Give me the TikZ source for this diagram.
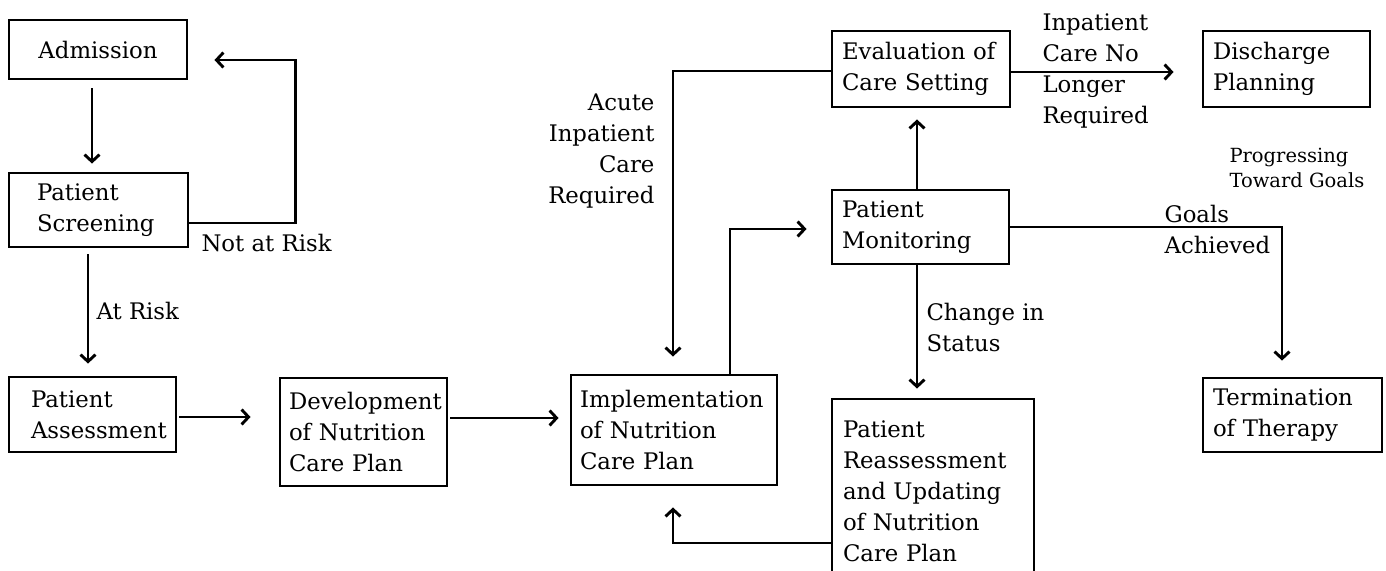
\documentclass[tikz,border=0pt]{standalone}
\usepackage{fontspec}
\setmainfont{DejaVu Serif}
\usetikzlibrary{arrows.meta}
\hbadness=10000 \hfuzz=200pt
\begin{document}
\begin{tikzpicture}[x=1pt,y=-1pt,
  every node/.style={font=\fontsize{22.8}{31}\selectfont, inner ysep=0pt},
  box/.style={draw, line width=2.9pt, align=left},
  arr/.style={line width=2.9pt, -{Straight Barb[length=7pt,width=15pt]}},
  lbl/.style={align=left, anchor=west},
  small/.style={font=\fontsize{19.5}{25}\selectfont}]
\clip (0,0) rectangle (1386,570);
\fill[white] (0,0) rectangle (1386,570);
% boxes
\node[box, align=center, minimum width=178, minimum height=59, inner xsep=10pt, text width=158pt] (adm) at (98,49.5) {Admission};
\node[box, minimum width=179, minimum height=74, inner xsep=28pt, text width=123pt] (scr) at (98.5,210) {Patient\\Screening};
\node[box, minimum width=167, minimum height=75, inner xsep=22pt, text width=123pt] (ass) at (92.5,414.5) {Patient\\Assessment};
\node[box, minimum width=167, minimum height=108, inner xsep=9pt, text width=149pt] (dev) at (363.5,432) {Development\\of~Nutrition\\Care~Plan};
\node[box, minimum width=206, minimum height=110, inner xsep=9pt, text width=188pt] (imp) at (674,430) {Implementation\\of~Nutrition\\Care~Plan};
\node[box, minimum width=178, minimum height=76, inner xsep=10pt, text width=158pt] (eva) at (921,69) {Evaluation~of\\Care~Setting};
\node[box, minimum width=177, minimum height=74, inner xsep=10pt, text width=157pt] (mon) at (920.5,227) {Patient\\Monitoring};
\node[box, minimum width=167, minimum height=76, inner xsep=10pt, text width=147pt] (dis) at (1286.5,69) {Discharge\\Planning};
\node[box, minimum width=179, minimum height=74, inner xsep=10pt, text width=159pt] (ter) at (1292.5,415) {Termination\\of~Therapy};
\node[box, minimum width=202, minimum height=185, inner xsep=11pt, text width=180pt] (rea) at (933,491.5) {Patient\\Reassessment\\and~Updating\\of~Nutrition\\Care~Plan};
% connectors
\draw[arr, shorten <=8pt, shorten >=8pt] ([xshift=-6pt]adm.south) -- ([xshift=-6pt]adm.south |- scr.north);
\draw[arr] ([yshift=-13pt]scr.east) -- ++(106,0) |- ([xshift=26pt,yshift=-10.5pt]adm.east);
\draw[arr, shorten <=6pt, shorten >=12pt] ([xshift=-10.5pt]scr.south) -- ([xshift=-10.5pt]scr.south |- ass.north);
\draw[arr, shorten <=2pt, shorten >=28pt] ([yshift=-2.5pt]ass.east) -- ([yshift=-2.5pt]ass.east -| dev.west);
\draw[arr, shorten <=2pt, shorten >=11pt] ([yshift=14pt]dev.east) -- ([yshift=14pt]dev.east -| imp.west);
\draw[arr, shorten >=24pt] ([xshift=56pt]imp.north) |- ([yshift=-2pt]mon.west);
\draw[arr, shorten >=11pt] ([xshift=-3.5pt]mon.north) -- ([xshift=-3.5pt]mon.north |- eva.south);
\draw[arr, shorten >=17pt] ([yshift=-2pt]eva.west) -| ([xshift=-1pt]imp.north);
\draw[arr, shorten >=28pt] ([yshift=-3pt]eva.east) -- ([yshift=-3pt]eva.east -| dis.west);
\draw[arr, shorten >=16pt] (mon.east) -| ([xshift=-10.5pt]ter.north);
\draw[arr, shorten >=9pt] ([xshift=-3.5pt]mon.south) -- ([xshift=-3.5pt]mon.south |- rea.north);
\draw[arr, shorten >=21pt] ([yshift=-51.5pt]rea.west) -| ([xshift=-1pt]imp.south);
% labels
\node[lbl] (lnr) at (198,243) {Not at Risk};
\node[lbl] (lar) at (93,311) {At Risk};
\node[align=right, anchor=east] (lac) at (658,151) {Acute\\Inpatient\\Care\\Required};
\node[lbl] (lin) at (1039,71) {Inpatient\\Care No\\Longer\\Required};
\node[lbl, small] (lpg) at (1226,168) {Progressing\\Toward Goals};
\node[lbl] (lga) at (1161,229) {Goals\\Achieved};
\node[lbl] (lcs) at (923,327) {Change in\\Status};
\end{tikzpicture}
\end{document}
